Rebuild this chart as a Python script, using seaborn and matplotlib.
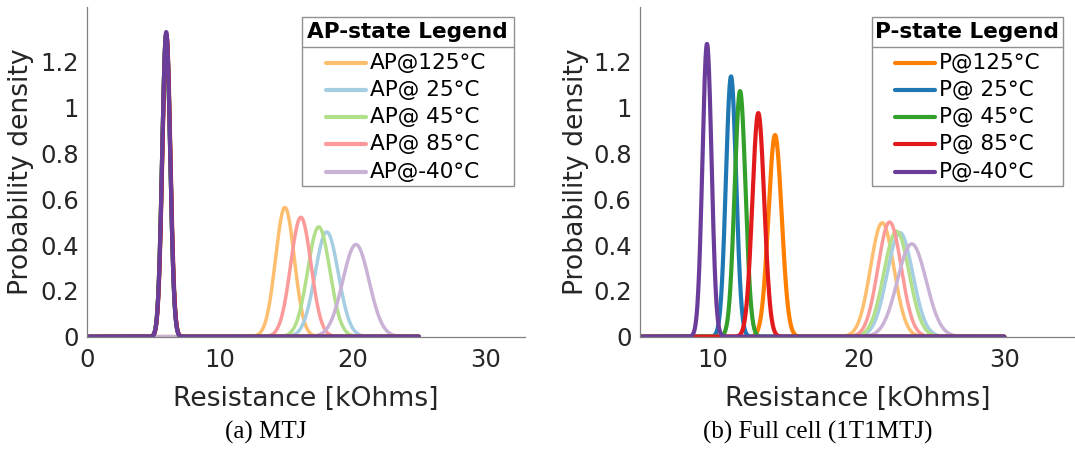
import numpy as np
import pandas as pd
import matplotlib
matplotlib.use("Agg")
import matplotlib.pyplot as plt
from matplotlib.lines import Line2D
from matplotlib.patches import Rectangle
from matplotlib.ticker import FuncFormatter
import seaborn as sns

# temperatures, in legend order
temps = ["125", " 25", " 45", " 85", "-40"]

# (a) MTJ: peak position [kOhm] and peak height of each normal pdf
ap_mean_a = [14.9, 18.05, 17.45, 16.1, 20.25]
ap_peak_a = [0.564, 0.457, 0.479, 0.521, 0.402]
p_mean_a = [5.95, 5.95, 5.95, 5.965, 5.95]
p_peak_a = [1.32, 1.32, 1.32, 1.32, 1.33]

# (b) full cell (1T1MTJ)
ap_mean_b = [21.62, 22.84, 22.6, 22.13, 23.65]
ap_peak_b = [0.497, 0.454, 0.46, 0.50, 0.405]
p_mean_b = [14.27, 11.25, 11.87, 13.12, 9.6]
p_peak_b = [0.88, 1.136, 1.072, 0.976, 1.278]

pal = sns.color_palette("Paired")
ap_colors = [pal[6], pal[0], pal[2], pal[4], pal[8]]
p_colors = [pal[7], pal[1], pal[3], pal[5], pal[9]]

sns.set_theme(style="white")
plt.rcParams["font.family"] = ["DejaVu Sans"]


def curves(means, peaks, names, x0, x1):
    x = np.linspace(x0, x1, 1200)
    rows = []
    for m, pk, nm in zip(means, peaks, names):
        sd = 1.0 / (pk * np.sqrt(2 * np.pi))
        y = pk * np.exp(-0.5 * ((x - m) / sd) ** 2)
        rows.append(pd.DataFrame({"R": x, "pdf": y, "curve": nm}))
    return pd.concat(rows, ignore_index=True)


ap_names = ["AP@" + t + "°C" for t in temps]
p_names = ["P@" + t + "°C" for t in temps]

W, H = 1075, 450
fig = plt.figure(figsize=(W / 100, H / 100), dpi=100)
ax1 = fig.add_axes([0.0812, 0.2518, 0.4072, 0.7333])
ax2 = fig.add_axes([0.5953, 0.2518, 0.4047, 0.7333])

panels = [
    (ax1, ap_mean_a, ap_peak_a, p_mean_a, p_peak_a, 0, 25, (0, 33), [0, 10, 20, 30]),
    (ax2, ap_mean_b, ap_peak_b, p_mean_b, p_peak_b, 5, 30, (5, 34.85), [10, 20, 30]),
]

for ax, apm, app, pm, pp, x0, x1, xl, xt in panels:
    df_ap = curves(apm, app, ap_names, x0, x1)
    df_p = curves(pm, pp, p_names, x0, x1)
    sns.lineplot(data=df_ap, x="R", y="pdf", hue="curve", hue_order=ap_names,
                 palette=dict(zip(ap_names, ap_colors)), linewidth=2.5,
                 estimator=None, sort=False, legend=False, ax=ax)
    sns.lineplot(data=df_p, x="R", y="pdf", hue="curve", hue_order=p_names,
                 palette=dict(zip(p_names, p_colors)), linewidth=3.0,
                 estimator=None, sort=False, legend=False, ax=ax)
    ax.set_xlim(*xl)
    ax.set_ylim(0, 1.44)
    ax.set_xticks(xt)
    ax.set_yticks([0, 0.2, 0.4, 0.6, 0.8, 1.0, 1.2])
    ax.yaxis.set_major_formatter(FuncFormatter(lambda v, p: "%g" % v))
    for s in ["top", "right"]:
        ax.spines[s].set_visible(False)
    for s in ["left", "bottom"]:
        ax.spines[s].set_color("#808080")
        ax.spines[s].set_linewidth(0.9)
    ax.tick_params(direction="in", length=4, width=0.8, color="#808080",
                   labelsize=17.5, labelcolor="#262626")
    ax.tick_params(axis="x", pad=8)
    ax.tick_params(axis="y", pad=6)
    ax.set_xlabel("Resistance [kOhms]", fontsize=19.2, color="#262626")
    ax.set_ylabel("Probability density", fontsize=19.2, color="#262626")

ax1.yaxis.set_label_coords(-0.122, 0.5)
ax2.yaxis.set_label_coords(-0.117, 0.5)
ax1.xaxis.set_label_coords(0.5, -0.15)
ax2.xaxis.set_label_coords(0.5, -0.15)


def fx(px):
    return px / W


def fy(py):
    return 1 - py / H


# MATLAB-style legends (boxed title with a rule under it), in pixel layout
row_y = [62.7, 90.0, 116.7, 144.3, 171.7]
for names, cols, title, box, hx in [
    (ap_names, ap_colors, "AP-state Legend", (301.7, 514.0), 326.0),
    (p_names, p_colors, "P-state Legend", (871.7, 1062.7), 895.0),
]:
    bx0, bx1 = box
    fig.add_artist(Rectangle((fx(bx0), fy(186)), fx(bx1 - bx0), (186 - 16.7) / H,
                             transform=fig.transFigure, facecolor="white",
                             edgecolor="#909090", lw=1.0, zorder=5))
    fig.add_artist(Line2D([fx(bx0), fx(bx1)], [fy(46.7), fy(46.7)],
                          transform=fig.transFigure, color="#909090", lw=1.0, zorder=6))
    fig.text(fx((bx0 + bx1) / 2), fy(32.2), title, fontsize=15.6, weight="bold",
             ha="center", va="center", color="black", zorder=6)
    for y, nm, c in zip(row_y, names, cols):
        fig.add_artist(Line2D([fx(hx), fx(hx + 40)], [fy(y), fy(y)],
                              transform=fig.transFigure, color=c, lw=3, zorder=6))
        fig.text(fx(hx + 44), fy(y), nm, fontsize=15.6, ha="left", va="center",
                 color="black", zorder=6)

fig.text(266 / W, 1 - 432 / H, "(a) MTJ", family="Liberation Serif",
         fontsize=18, ha="center", va="center", color="black")
fig.text(818 / W, 1 - 432 / H, "(b) Full cell (1T1MTJ)", family="Liberation Serif",
         fontsize=18, ha="center", va="center", color="black")

fig.savefig("out.png", dpi=100)
